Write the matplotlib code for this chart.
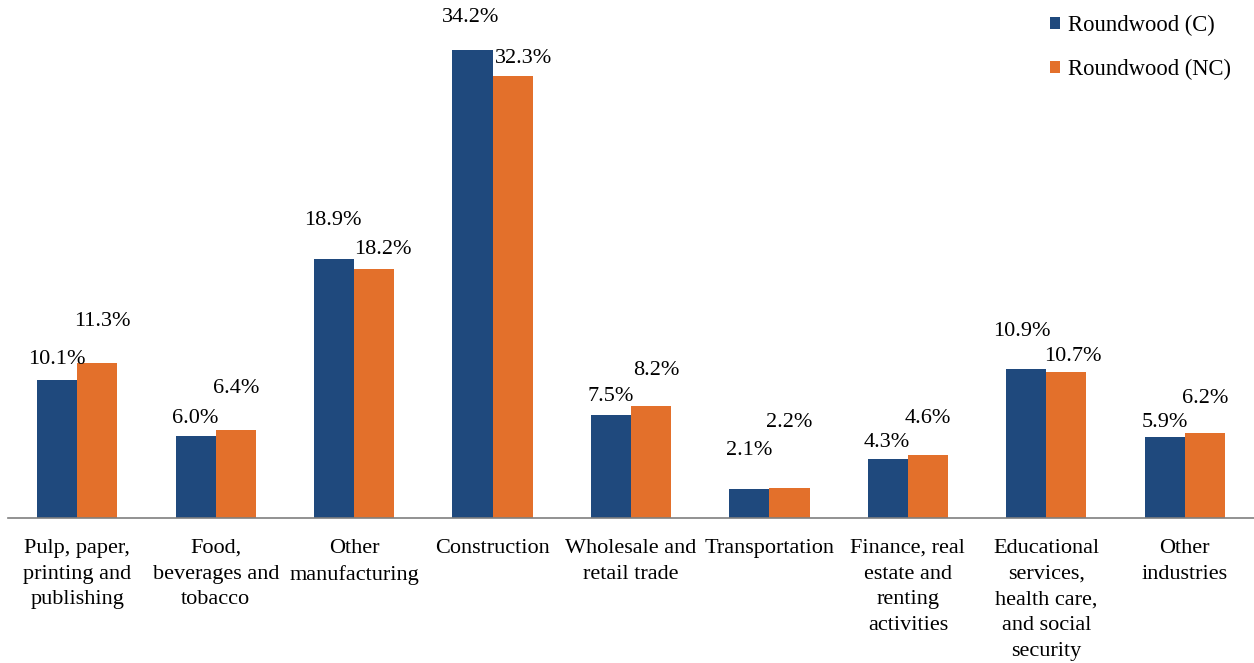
import matplotlib
matplotlib.use("Agg")
import matplotlib.pyplot as plt
import numpy as np

plt.rcParams['font.family'] = ['Liberation Serif', 'DejaVu Serif']

categories = [
    "Pulp, paper,\nprinting and\npublishing",
    "Food,\nbeverages and\ntobacco",
    "Other\nmanufacturing",
    "Construction",
    "Wholesale and\nretail trade",
    "Transportation",
    "Finance, real\nestate and\nrenting\nactivities",
    "Educational\nservices,\nhealth care,\nand social\nsecurity",
    "Other\nindustries",
]
roundwood_c = [10.1, 6.0, 18.9, 34.2, 7.5, 2.1, 4.3, 10.9, 5.9]
roundwood_nc = [11.3, 6.4, 18.2, 32.3, 8.2, 2.2, 4.6, 10.7, 6.2]

# label placement nudges (x in category units, y in percentage points)
c_dx = [0.0, 0.0, -0.01, -0.01, 0.0, 0.0, -0.01, -0.03, 0.0]
c_dy = [1.45, 1.3, 2.85, 2.35, 1.4, 2.85, 1.25, 2.7, 1.1]
nc_dx = [0.04, 0.0, 0.06, 0.08, 0.04, 0.0, 0.0, 0.05, 0.0]
nc_dy = [3.05, 3.05, 1.45, 1.25, 2.6, 4.8, 2.7, 1.1, 2.55]

blue = '#1F497D'
orange = '#E3702B'
width = 0.29
fs = 16

fig = plt.figure(figsize=(12.54, 6.63), dpi=100)
ax = fig.add_axes([0.0064, 0.2187, 0.9936, 0.7813])

x = np.arange(len(categories))
ax.bar(x - width / 2, roundwood_c, width, color=blue, label='Roundwood (C)')
ax.bar(x + width / 2, roundwood_nc, width, color=orange, label='Roundwood (NC)')

for i in range(len(categories)):
    ax.text(x[i] - width / 2 + c_dx[i], roundwood_c[i] + c_dy[i],
            f"{roundwood_c[i]:.1f}%", ha='center', va='center', fontsize=fs)
    ax.text(x[i] + width / 2 + nc_dx[i], roundwood_nc[i] + nc_dy[i],
            f"{roundwood_nc[i]:.1f}%", ha='center', va='center', fontsize=fs)

ax.set_xlim(-0.5, len(categories) - 0.5)
ax.set_ylim(0, 37.86)
ax.set_yticks([])
ax.set_xticks(x)
ax.set_xticklabels(categories, fontsize=fs, linespacing=1.48)
ax.tick_params(axis='x', length=0, pad=15)
for side in ['top', 'right', 'left']:
    ax.spines[side].set_visible(False)
ax.spines['bottom'].set_color('#7f7f7f')
ax.spines['bottom'].set_linewidth(1.2)

ax.legend(loc='upper right', bbox_to_anchor=(0.998, 1.01), frameon=False,
          fontsize=16.3, handlelength=0.45, handleheight=0.45, handletextpad=0.35,
          labelspacing=0.99)

fig.savefig('out.png', dpi=100)
